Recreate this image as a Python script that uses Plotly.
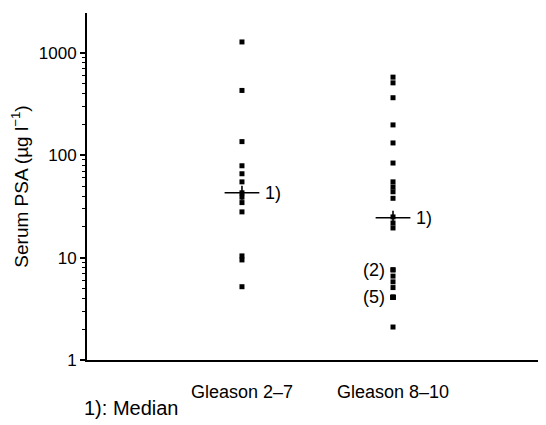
import math
import plotly.graph_objects as go

categories = ["Gleason 2–7", "Gleason 8–10"]
gleason_2_7 = [1280, 430, 136, 79, 66, 55, 43, 39, 34.5, 28, 10.4, 9.5, 5.2]
gleason_8_10 = [580, 510, 365, 198, 132, 84, 55, 49, 44, 38, 25, 21.8, 19.5,
                7.6, 7.6, 6.6, 5.8, 5.1, 4.1, 4.1, 4.1, 4.1, 4.1, 2.1]
medians = [43, 24.5]
y_tickvals = [1, 10, 100, 1000]
y_ticktext = ["1", "10", "100", "1000"]
minor_vals = [m * d for d in (1, 10, 100) for m in range(2, 10)]

FONT = "Arial, 'Liberation Sans', Helvetica, sans-serif"
fig = go.Figure()

for i, vals in enumerate([gleason_2_7, gleason_8_10]):
    fig.add_trace(go.Scatter(
        x=[i] * len(vals), y=vals, mode="markers",
        marker=dict(symbol="square", size=5, color="black"),
        showlegend=False, hoverinfo="y"))
    # median cross
    fig.add_trace(go.Scatter(
        x=[i - 0.115, i + 0.115], y=[medians[i], medians[i]], mode="lines",
        line=dict(color="black", width=1.6), showlegend=False, hoverinfo="skip"))
    fig.add_trace(go.Scatter(
        x=[i, i], y=[medians[i] / 1.17, medians[i] * 1.17], mode="lines",
        line=dict(color="black", width=1.6), showlegend=False, hoverinfo="skip"))
    fig.add_annotation(x=i + 0.14, y=math.log10(medians[i]), text="1)", showarrow=False,
                       xanchor="left", yanchor="middle",
                       font=dict(family=FONT, size=18, color="black"))

fig.add_annotation(x=1 - 0.04, y=math.log10(7.6), text="(2)", showarrow=False,
                   xanchor="right", yanchor="middle",
                   font=dict(family=FONT, size=18, color="black"))
fig.add_annotation(x=1 - 0.04, y=math.log10(4.1), text="(5)", showarrow=False,
                   xanchor="right", yanchor="middle",
                   font=dict(family=FONT, size=18, color="black"))
fig.add_annotation(x=0, y=0, xref="paper", yref="paper", xshift=-5, yshift=-48,
                   text="1): Median", showarrow=False, xanchor="left", yanchor="middle",
                   font=dict(family=FONT, size=20, color="black"))

fig.update_layout(
    width=538, height=417,
    margin=dict(l=79, r=3, t=5, b=65),
    paper_bgcolor="white", plot_bgcolor="white",
    font=dict(family=FONT, size=17, color="black"),
    xaxis=dict(
        range=[-1.026, 1.993], tickmode="array", tickvals=[0, 1], ticktext=categories,
        showgrid=False, zeroline=False, showline=True, linecolor="black", linewidth=2,
        ticks="", ticklabelstandoff=14, tickfont=dict(size=18), automargin=False),
    yaxis=dict(
        type="log", range=[0, 3.39], tickmode="array", tickvals=y_tickvals,
        ticktext=y_ticktext, showgrid=False, zeroline=False, showline=True,
        linecolor="black", linewidth=2, ticks="outside", ticklen=5, tickwidth=1.5,
        tickcolor="black", tickfont=dict(size=17), automargin=False,
        title=dict(text="Serum PSA (µg l<sup>−1</sup>)", font=dict(size=19)),
        minor=dict(tickmode="array", tickvals=minor_vals, ticks="outside",
                   ticklen=3, tickwidth=1.2, tickcolor="black", showgrid=False)),
)

fig.write_html("out.html")
